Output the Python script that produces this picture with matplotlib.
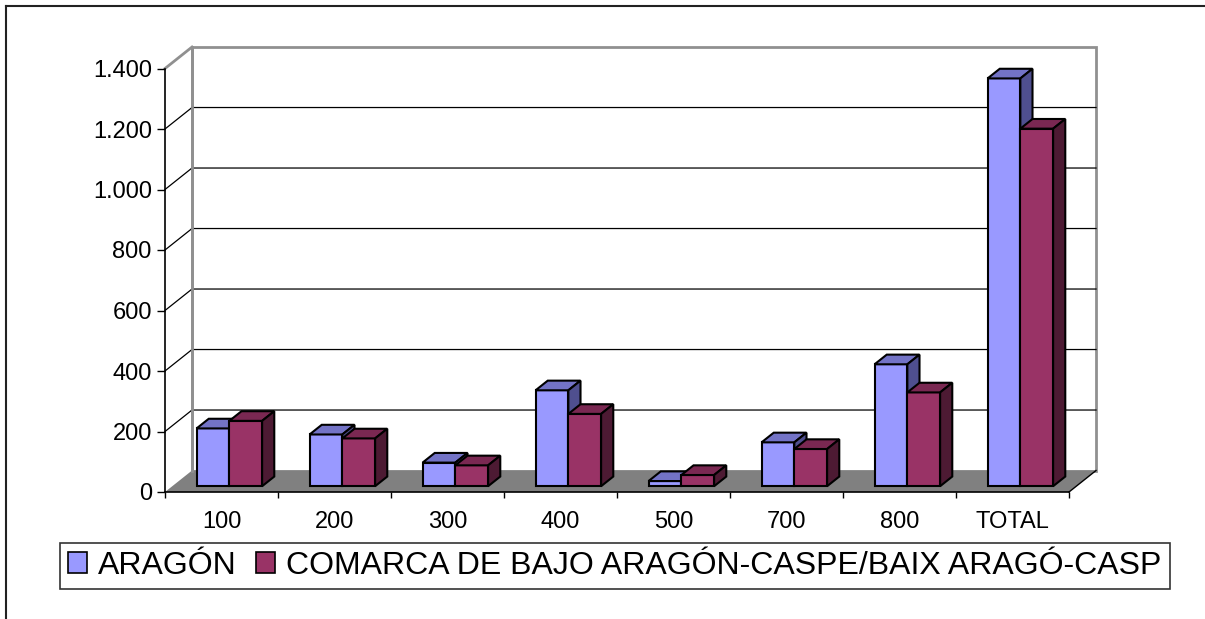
import numpy as np
import matplotlib.pyplot as plt
from matplotlib.patches import Polygon, Patch
from matplotlib.lines import Line2D
from matplotlib.ticker import FuncFormatter

plt.rcParams['font.family'] = ['Liberation Sans', 'DejaVu Sans']

# data
categories = ['100', '200', '300', '400', '500', '700', '800', 'TOTAL']
aragon = [191, 171, 78, 317, 17, 145, 403, 1348]
comarca = [216, 158, 69, 239, 37, 123, 310, 1182]
series_names = ['ARAGÓN', 'COMARCA DE BAJO ARAGÓN-CASPE/BAIX ARAGÓ-CASP']
yticks = [0, 200, 400, 600, 800, 1000, 1200, 1400]

# colours (front, top, side)
blue = ('#9999FF', '#7373C6', '#4F4F8F')
red = ('#993366', '#7A2852', '#4D1A33')

W, H = 1205, 619
fig = plt.figure(figsize=(W / 100, H / 100), dpi=100)
# front plane of the 3D box
ax = fig.add_axes([165 / W, (H - 492) / H, 904 / W, 423.5 / H])
n = len(categories)
ax.set_xlim(0, n)
ax.set_ylim(0, 1400)

# depth vector of the box in data units
DX, DY = 0.239, 71.0
f0, f1 = 0.27, 0.72  # bar front/back as fraction of depth


def add_poly(pts, fc, ec='none', lw=0, z=1):
    ax.add_patch(Polygon(pts, closed=True, facecolor=fc, edgecolor=ec,
                         linewidth=lw, zorder=z, clip_on=False,
                         joinstyle='miter'))


# back wall
add_poly([(DX, DY), (n + DX, DY), (n + DX, 1400 + DY), (DX, 1400 + DY)],
         'white', '#909090', 2, 0.5)
# gridlines on back wall and side wall
for v in yticks[1:-1]:
    ax.plot([0, DX, n + DX], [v, v + DY, v + DY], color='black', lw=0.9,
            zorder=0.6, clip_on=False)
ax.plot([0, DX], [1400, 1400 + DY], color='#909090', lw=2, zorder=0.6,
        clip_on=False)
# floor
add_poly([(0, 0), (n, 0), (n + DX, DY), (DX, DY)], '#808080', 'none', 0, 0.7)
ax.plot([n, n + DX], [0, DY], color='black', lw=1, zorder=0.8, clip_on=False)
ax.plot([DX, DX], [DY, 1400 + DY], color='#909090', lw=2, zorder=0.8,
        clip_on=False)

# bars
ox0, oy0 = f0 * DX, f0 * DY
bdx, bdy = (f1 - f0) * DX, (f1 - f0) * DY
bw = 0.29
for i in range(n):
    for j, (vals, col) in enumerate([(aragon, blue), (comarca, red)]):
        x0 = i + 0.215 + j * bw + ox0
        x1 = x0 + bw
        y0 = oy0
        y1 = oy0 + vals[i]
        z = 2 + i * 2 + j
        add_poly([(x0, y0), (x1, y0), (x1, y1), (x0, y1)], col[0], 'black', 1.5, z)
        add_poly([(x0, y1), (x1, y1), (x1 + bdx, y1 + bdy), (x0 + bdx, y1 + bdy)],
                 col[1], 'black', 1.5, z)
        add_poly([(x1, y0), (x1 + bdx, y0 + bdy), (x1 + bdx, y1 + bdy), (x1, y1)],
                 col[2], 'black', 1.5, z)

# axes styling
for s in ['top', 'right']:
    ax.spines[s].set_visible(False)
ax.spines['left'].set_linewidth(1.2)
ax.spines['bottom'].set_linewidth(1.2)
ax.patch.set_visible(False)
ax.set_yticks(yticks)
ax.yaxis.set_major_formatter(FuncFormatter(lambda v, p: f'{int(v):,}'.replace(',', '.')))
ax.tick_params(axis='y', direction='out', length=6, width=1, pad=3.5, labelsize=17)
ax.set_xticks(np.arange(n) + 0.5)
ax.set_xticklabels(categories)
ax.set_xticks(np.arange(n + 1), minor=True)
ax.tick_params(axis='x', which='major', length=0, pad=14, labelsize=17)
ax.tick_params(axis='x', which='minor', direction='out', length=4.5, width=1)

# legend
handles = [Patch(facecolor=blue[0], edgecolor='black', linewidth=1.2),
           Patch(facecolor=red[0], edgecolor='black', linewidth=1.2)]
leg = fig.legend(handles, series_names, loc='center', bbox_to_anchor=(0.51, 0.086),
                 ncol=2, fontsize=23, frameon=True, fancybox=False,
                 edgecolor='black', handlelength=0.6, handleheight=0.6,
                 handletextpad=0.35, columnspacing=0.6, borderpad=0.25,
                 borderaxespad=0)
leg.get_frame().set_linewidth(1.2)

# outer chart border (top and left)
fig.add_artist(Line2D([6 / W, 1], [1 - 6 / H, 1 - 6 / H], color='#222222', lw=1.5))
fig.add_artist(Line2D([6 / W, 6 / W], [0, 1 - 6 / H], color='#222222', lw=1.5))

fig.savefig('out.png', dpi=100)
